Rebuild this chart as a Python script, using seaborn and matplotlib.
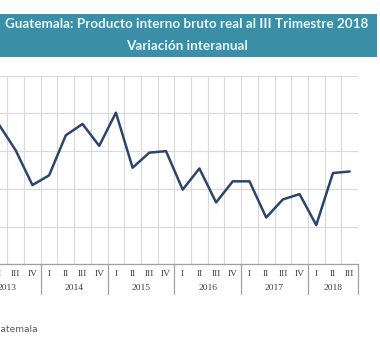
import numpy as np
import pandas as pd
import matplotlib
matplotlib.use("Agg")
import matplotlib.pyplot as plt
import matplotlib.transforms as mtransforms
from matplotlib.patches import Rectangle
import seaborn as sns

# Variación interanual del PIB real por trimestre (%)
years = ["2013", "2014", "2015", "2016", "2017", "2018"]
quarters_per_year = [4, 4, 4, 4, 4, 3]
roman = ["I", "II", "III", "IV"]
values = [np.nan, 3.85, 3.51, 3.05,
          3.18, 3.71, 3.86, 3.57,
          4.01, 3.28, 3.48, 3.50,
          2.99, 3.27, 2.82, 3.10,
          3.10, 2.62, 2.86, 2.93,
          2.52, 3.21, 3.23]
y_ticks = [2.0, 2.5, 3.0, 3.5, 4.0, 4.5]

title_1 = "Guatemala: Producto interno bruto real al III Trimestre 2018"
title_2 = "Variación interanual"
source = "Fuente: Banco de Guatemala"

quarter_labels = [roman[q] for n in quarters_per_year for q in range(n)]
year_of = [y for y, n in zip(years, quarters_per_year) for _ in range(n)]
df = pd.DataFrame({
    "pos": np.arange(len(quarter_labels)),
    "trimestre": quarter_labels,
    "anio": year_of,
    "variacion": values,
})

sns.set_theme(style="white")
W, H = 380, 349
fig = plt.figure(figsize=(W / 100, H / 100), dpi=100)
fig.patch.set_facecolor("white")

# title banner
fig.patches.append(Rectangle((0, (H - 57) / H), 377 / W, 43 / H,
                             transform=fig.transFigure, facecolor="#3a8fa6",
                             edgecolor="none", zorder=0))
fig.text(187 / W, (H - 24) / H, title_1, ha="center", va="center",
         color="#e6f6fa", fontsize=9.75, fontweight="bold", family="Lato")
fig.text(187 / W, (H - 46) / H, title_2, ha="center", va="center",
         color="#e6f6fa", fontsize=9.75, fontweight="bold", family="Lato")

ax = fig.add_axes([-26 / W, 84.7 / H, 384 / W, 188.6 / H])
sns.lineplot(data=df, x="pos", y="variacion", ax=ax, color="#2d4569",
             linewidth=1.8, legend=False)

n = len(df)
ax.set_xlim(-0.5, n - 0.5)
ax.set_ylim(y_ticks[0], y_ticks[-1])
ax.set_yticks(y_ticks)
ax.set_yticklabels([])
ax.set_xticks(df["pos"])
ax.set_xticklabels(df["trimestre"], family="Liberation Serif", fontsize=6.8,
                   color="#404040")
ax.set_xticks(np.arange(n) + 0.5, minor=True)
ax.tick_params(axis="x", which="both", length=0, pad=4)
ax.tick_params(axis="y", length=0)
ax.set_xlabel("")
ax.set_ylabel("")

ax.grid(axis="y", which="major", color="#d9d9d9", linewidth=0.8)
ax.grid(axis="x", which="minor", color="#d9d9d9", linewidth=0.8)
ax.grid(axis="x", which="major", visible=False)
ax.set_axisbelow(True)
for side in ["top", "right", "left"]:
    ax.spines[side].set_visible(False)
ax.spines["bottom"].set_color("#a0a0a0")
ax.spines["bottom"].set_linewidth(0.9)

# year groups below the quarter labels
trans = mtransforms.blended_transform_factory(ax.transData, ax.transAxes)
ax_h = 188.6
start = -0.5
bounds = [start]
for y, k in zip(years, quarters_per_year):
    mid = start + k / 2
    ax.text(mid, -23.5 / ax_h, y, transform=trans, ha="center", va="center",
            family="Liberation Serif", fontsize=6.8, color="#404040")
    start += k
    bounds.append(start)
for b in bounds:
    ax.plot([b, b], [0, -30 / ax_h], transform=trans, color="#a0a0a0",
            linewidth=0.9, clip_on=False)

fig.text(38 / W, (H - 330) / H, source, ha="right", va="center",
         color="#595959", fontsize=6.5, family="DejaVu Sans")

fig.savefig("out.png", dpi=100)
